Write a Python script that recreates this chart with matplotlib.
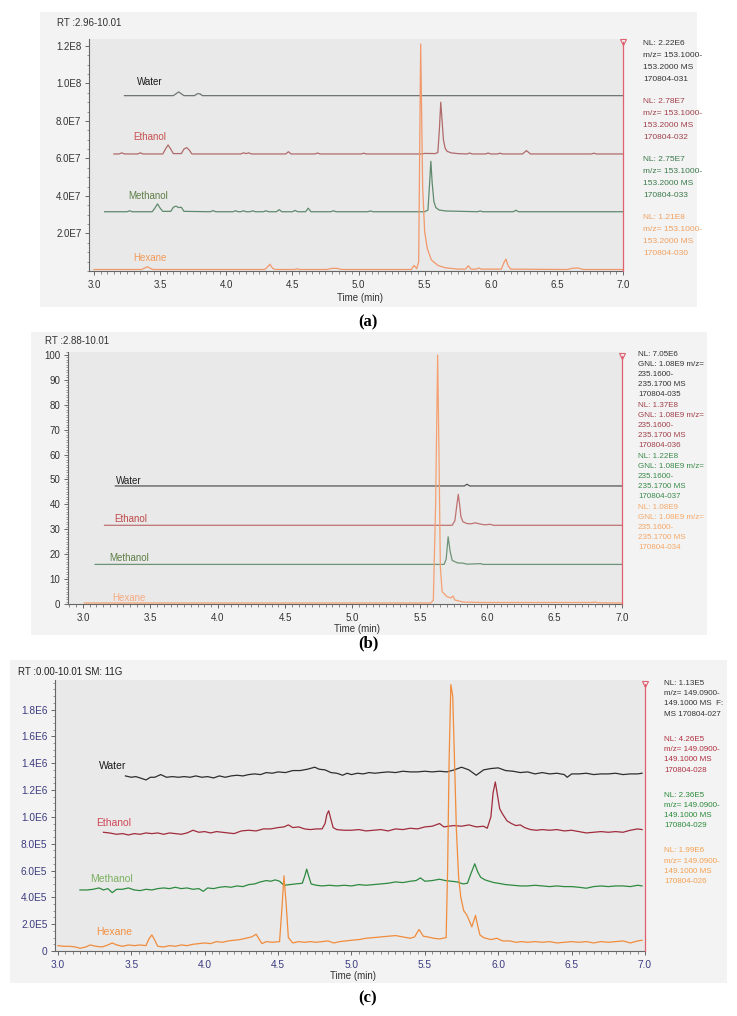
import numpy as np
import matplotlib.pyplot as plt
from matplotlib.patches import Rectangle
from matplotlib.ticker import MultipleLocator, FixedLocator

plt.rcParams['font.family'] = ['Liberation Sans', 'DejaVu Sans']

W, H = 737, 1016

# ---------------- data (time in min, intensity) ----------------
samples = ['Water', 'Ethanol', 'Methanol', 'Hexane']

# panel (a): m/z 153.1-153.2, intensity in units of 1E7
a_water = [(3.23, 9.35), (3.60, 9.35), (3.62, 9.45), (3.64, 9.55), (3.66, 9.45), (3.68, 9.35),
           (3.76, 9.35), (3.78, 9.45), (3.80, 9.45), (3.82, 9.35), (7.0, 9.35)]
a_ethanol = [(3.15, 6.24), (3.19, 6.24), (3.21, 6.30), (3.23, 6.24), (3.33, 6.24), (3.35, 6.30), (3.37, 6.24),
             (3.52, 6.24), (3.54, 6.50), (3.56, 6.72), (3.58, 6.50), (3.60, 6.26), (3.66, 6.26), (3.68, 6.50),
             (3.70, 6.58), (3.72, 6.45), (3.74, 6.24), (4.11, 6.24), (4.13, 6.30), (4.15, 6.26), (4.17, 6.30),
             (4.19, 6.24), (4.45, 6.24), (4.47, 6.36), (4.49, 6.24), (4.67, 6.24), (4.69, 6.29), (4.71, 6.24),
             (5.02, 6.24), (5.04, 6.28), (5.06, 6.24), (5.48, 6.24), (5.50, 6.27), (5.58, 6.26), (5.60, 6.32),
             (5.612, 7.6), (5.622, 9.0), (5.632, 8.0), (5.642, 7.0), (5.655, 6.55), (5.67, 6.38), (5.70, 6.30),
             (5.75, 6.26), (5.82, 6.24), (5.84, 6.29), (5.86, 6.24), (5.96, 6.24), (5.98, 6.29), (6.00, 6.24),
             (6.05, 6.24), (6.07, 6.28), (6.09, 6.24), (6.24, 6.24), (6.27, 6.42), (6.30, 6.24), (6.76, 6.24),
             (6.78, 6.28), (6.80, 6.24), (7.0, 6.24)]
a_methanol = [(3.08, 3.16), (3.25, 3.16), (3.27, 3.21), (3.29, 3.16), (3.44, 3.16), (3.46, 3.35), (3.48, 3.58),
              (3.50, 3.35), (3.52, 3.18), (3.58, 3.18), (3.60, 3.40), (3.62, 3.46), (3.64, 3.38), (3.66, 3.40),
              (3.68, 3.18), (3.88, 3.16), (3.90, 3.22), (3.92, 3.16), (4.05, 3.16), (4.07, 3.21), (4.09, 3.16),
              (4.11, 3.16), (4.13, 3.21), (4.15, 3.16), (4.18, 3.16), (4.20, 3.21), (4.22, 3.16), (4.28, 3.16),
              (4.30, 3.21), (4.32, 3.16), (4.38, 3.16), (4.40, 3.27), (4.42, 3.16), (4.50, 3.16), (4.52, 3.23),
              (4.54, 3.16), (4.60, 3.16), (4.62, 3.35), (4.64, 3.16), (4.79, 3.16), (4.81, 3.21), (4.83, 3.16),
              (5.07, 3.16), (5.09, 3.20), (5.11, 3.16), (5.50, 3.16), (5.525, 3.25), (5.537, 4.6), (5.547, 5.85),
              (5.557, 4.7), (5.57, 3.7), (5.585, 3.38), (5.61, 3.25), (5.66, 3.20), (5.90, 3.16), (5.92, 3.20),
              (5.94, 3.16), (6.17, 3.16), (6.19, 3.24), (6.21, 3.16), (7.0, 3.16)]
a_hexane = [(3.00, 0.08), (3.36, 0.08), (3.38, 0.15), (3.405, 0.23), (3.43, 0.12), (3.45, 0.08), (4.29, 0.08),
            (4.31, 0.20), (4.33, 0.36), (4.35, 0.15), (4.37, 0.08), (4.52, 0.08), (4.53, 0.12), (4.55, 0.08),
            (4.76, 0.08), (4.80, 0.14), (4.84, 0.14), (4.87, 0.08), (5.40, 0.08), (5.42, 0.30), (5.44, 0.12),
            (5.455, 0.5), (5.462, 6.0), (5.47, 12.1), (5.478, 8.0), (5.485, 4.5), (5.50, 2.1), (5.52, 1.2),
            (5.55, 0.6), (5.60, 0.3), (5.65, 0.18), (5.75, 0.10), (5.81, 0.10), (5.83, 0.28), (5.85, 0.10),
            (5.89, 0.10), (5.91, 0.16), (5.93, 0.10), (6.08, 0.10), (6.10, 0.45), (6.115, 0.64), (6.13, 0.30),
            (6.15, 0.10), (6.58, 0.08), (6.62, 0.15), (6.66, 0.16), (6.70, 0.08), (7.0, 0.08)]

# panel (b): m/z 235.16-235.17, relative abundance (%)
b_water = [(3.24, 47.4), (5.83, 47.4), (5.85, 48.1), (5.87, 47.4), (7.0, 47.4)]
b_ethanol = [(3.16, 31.6), (5.74, 31.6), (5.76, 33.5), (5.775, 40.0), (5.785, 44.0), (5.795, 40.0),
             (5.805, 35.0), (5.82, 33.0), (5.85, 32.3), (5.88, 32.2), (5.91, 32.6), (5.94, 32.2),
             (5.98, 31.8), (6.02, 32.0), (6.05, 31.6), (7.0, 31.6)]
b_methanol = [(3.09, 15.9), (5.68, 15.9), (5.695, 18.0), (5.71, 27.0), (5.725, 21.0), (5.74, 17.5),
              (5.78, 16.5), (5.82, 16.4), (5.85, 16.0), (5.95, 16.2), (5.97, 15.9), (7.0, 15.9)]
b_hexane = [(3.01, 0.4), (5.58, 0.4), (5.60, 1.5), (5.617, 40.0), (5.632, 100.0), (5.642, 60.0),
            (5.652, 15.0), (5.665, 5.0), (5.70, 3.0), (5.73, 2.4), (5.745, 3.2), (5.76, 1.6),
            (5.82, 0.8), (5.95, 0.6), (6.78, 0.6), (6.80, 0.8), (6.82, 0.5), (7.0, 0.4)]

# panel (c): m/z 149.09-149.10, intensity in units of 1E5
c_water = [(3.46, 13.05), (3.50, 12.95), (3.53, 13.0), (3.56, 12.9), (3.60, 12.75), (3.63, 12.95), (3.66, 12.95),
           (3.70, 13.15), (3.74, 12.95), (3.78, 13.0), (3.82, 12.95), (3.86, 13.0), (3.90, 12.95), (3.94, 13.05),
           (3.98, 12.95), (4.02, 13.0), (4.06, 12.9), (4.10, 13.05), (4.14, 12.95), (4.18, 13.05), (4.22, 13.1),
           (4.26, 13.05), (4.30, 13.15), (4.34, 13.2), (4.38, 13.15), (4.42, 13.3), (4.46, 13.25), (4.50, 13.35),
           (4.55, 13.3), (4.60, 13.45), (4.65, 13.45), (4.70, 13.55), (4.75, 13.7), (4.78, 13.55), (4.82, 13.5),
           (4.86, 13.3), (4.90, 13.25), (4.94, 13.1), (4.97, 13.25), (5.00, 13.15), (5.04, 13.25), (5.08, 13.2),
           (5.12, 13.3), (5.16, 13.25), (5.20, 13.3), (5.25, 13.35), (5.30, 13.3), (5.35, 13.4), (5.40, 13.35),
           (5.45, 13.35), (5.50, 13.4), (5.55, 13.35), (5.60, 13.4), (5.65, 13.35), (5.70, 13.5), (5.75, 13.7),
           (5.80, 13.5), (5.85, 13.1), (5.90, 13.5), (5.95, 13.6), (6.00, 13.65), (6.05, 13.45), (6.10, 13.4),
           (6.15, 13.3), (6.20, 13.35), (6.25, 13.2), (6.30, 13.3), (6.35, 13.2), (6.40, 13.25), (6.45, 13.15),
           (6.47, 12.95), (6.50, 13.2), (6.55, 13.2), (6.60, 13.25), (6.65, 13.15), (6.70, 13.2), (6.75, 13.2),
           (6.80, 13.25), (6.85, 13.15), (6.90, 13.2), (6.95, 13.2), (6.98, 13.25)]
c_ethanol = [(3.31, 8.85), (3.35, 8.8), (3.40, 8.7), (3.44, 8.75), (3.48, 8.65), (3.52, 8.75), (3.56, 8.7),
             (3.60, 8.8), (3.64, 8.75), (3.68, 8.8), (3.72, 8.7), (3.76, 8.8), (3.80, 8.75), (3.84, 8.7),
             (3.88, 8.8), (3.92, 9.0), (3.96, 8.85), (4.00, 8.9), (4.04, 8.8), (4.08, 8.9), (4.12, 8.85),
             (4.16, 8.8), (4.20, 8.75), (4.25, 8.95), (4.30, 9.0), (4.35, 8.95), (4.40, 9.1), (4.45, 9.1),
             (4.50, 9.2), (4.54, 9.25), (4.57, 9.4), (4.60, 9.2), (4.64, 9.25), (4.68, 9.1), (4.72, 9.05),
             (4.76, 9.1), (4.80, 9.1), (4.82, 9.5), (4.833, 10.2), (4.845, 10.45), (4.858, 9.9), (4.875, 9.2),
             (4.90, 9.05), (4.95, 9.0), (5.00, 9.0), (5.05, 9.05), (5.10, 8.95), (5.15, 9.0), (5.20, 9.05),
             (5.25, 8.95), (5.30, 9.1), (5.35, 9.05), (5.40, 9.15), (5.45, 9.1), (5.50, 9.25), (5.55, 9.3),
             (5.60, 9.5), (5.63, 9.25), (5.66, 9.3), (5.70, 9.35), (5.75, 9.3), (5.80, 9.4), (5.85, 9.25),
             (5.90, 9.3), (5.925, 9.15), (5.95, 10.0), (5.965, 11.8), (5.98, 12.6), (5.995, 11.6), (6.01, 10.6),
             (6.03, 10.2), (6.06, 9.7), (6.09, 9.5), (6.12, 9.35), (6.15, 9.4), (6.18, 9.2), (6.22, 9.05),
             (6.26, 9.0), (6.30, 9.05), (6.35, 9.0), (6.40, 9.05), (6.45, 8.95), (6.50, 9.0), (6.55, 8.9),
             (6.60, 8.8), (6.65, 8.85), (6.70, 8.9), (6.75, 8.85), (6.80, 8.9), (6.85, 8.85), (6.90, 9.0),
             (6.95, 9.1), (6.98, 9.05)]
c_methanol = [(3.15, 4.55), (3.20, 4.55), (3.24, 4.6), (3.28, 4.7), (3.31, 4.55), (3.34, 4.65), (3.37, 4.35),
              (3.40, 4.6), (3.44, 4.6), (3.48, 4.7), (3.52, 4.55), (3.56, 4.5), (3.60, 4.6), (3.64, 4.55),
              (3.68, 4.65), (3.72, 4.7), (3.76, 4.65), (3.80, 4.75), (3.84, 4.65), (3.88, 4.7), (3.92, 4.6),
              (3.96, 4.65), (3.99, 4.45), (4.02, 4.7), (4.06, 4.65), (4.10, 4.75), (4.14, 4.8), (4.18, 4.75),
              (4.22, 4.85), (4.26, 4.8), (4.30, 4.95), (4.34, 5.0), (4.38, 5.15), (4.42, 5.25), (4.45, 5.2),
              (4.48, 5.3), (4.51, 5.2), (4.54, 4.9), (4.58, 4.95), (4.62, 5.0), (4.665, 5.05), (4.682, 5.6),
              (4.695, 6.1), (4.708, 5.6), (4.725, 5.0), (4.76, 4.9), (4.80, 4.85), (4.85, 4.9), (4.90, 4.85),
              (4.95, 4.9), (5.00, 4.85), (5.05, 4.95), (5.10, 4.9), (5.15, 4.95), (5.20, 5.0), (5.25, 5.05),
              (5.30, 5.15), (5.35, 5.1), (5.40, 5.2), (5.44, 5.25), (5.47, 5.45), (5.50, 5.2), (5.55, 5.25),
              (5.60, 5.35), (5.64, 5.25), (5.68, 5.2), (5.72, 5.15), (5.76, 5.0), (5.79, 5.05), (5.815, 5.8),
              (5.84, 6.5), (5.86, 5.9), (5.88, 5.5), (5.91, 5.3), (5.94, 5.2), (5.97, 5.1), (6.00, 5.05),
              (6.05, 4.95), (6.10, 4.9), (6.15, 4.85), (6.20, 4.85), (6.25, 4.9), (6.30, 4.85), (6.35, 4.8),
              (6.40, 4.85), (6.45, 4.8), (6.50, 4.8), (6.55, 4.75), (6.60, 4.68), (6.65, 4.8), (6.70, 4.85),
              (6.75, 4.8), (6.80, 4.85), (6.85, 4.85), (6.90, 4.8), (6.95, 4.9), (6.98, 4.85)]
c_hexane = [(3.00, 0.4), (3.04, 0.35), (3.08, 0.35), (3.12, 0.3), (3.15, 0.2), (3.19, 0.3), (3.22, 0.45),
            (3.26, 0.35), (3.30, 0.3), (3.34, 0.45), (3.37, 0.6), (3.40, 0.45), (3.44, 0.35), (3.48, 0.45),
            (3.52, 0.4), (3.56, 0.45), (3.60, 0.4), (3.62, 0.9), (3.64, 1.2), (3.66, 0.8), (3.68, 0.35),
            (3.72, 0.3), (3.76, 0.4), (3.80, 0.35), (3.84, 0.45), (3.88, 0.4), (3.92, 0.5), (3.96, 0.55),
            (4.00, 0.6), (4.04, 0.55), (4.08, 0.7), (4.12, 0.65), (4.16, 0.75), (4.20, 0.8), (4.24, 0.85),
            (4.28, 0.95), (4.32, 1.05), (4.35, 1.25), (4.37, 0.9), (4.39, 0.55), (4.42, 0.7), (4.46, 0.65),
            (4.51, 0.7), (4.525, 3.0), (4.54, 5.6), (4.555, 3.5), (4.57, 1.0), (4.60, 0.6), (4.64, 0.7),
            (4.68, 0.65), (4.72, 0.7), (4.76, 0.65), (4.80, 0.7), (4.84, 0.75), (4.88, 0.6), (4.92, 0.7),
            (4.96, 0.75), (5.00, 0.8), (5.05, 0.85), (5.10, 0.95), (5.15, 1.0), (5.20, 1.05), (5.25, 1.1),
            (5.30, 1.15), (5.35, 1.05), (5.40, 0.95), (5.43, 1.05), (5.46, 1.6), (5.49, 1.1), (5.52, 1.05),
            (5.56, 0.95), (5.60, 0.9), (5.645, 1.0), (5.655, 6.0), (5.665, 14.0), (5.677, 19.85), (5.69, 19.0),
            (5.70, 15.0), (5.715, 9.0), (5.73, 5.5), (5.745, 4.0), (5.765, 3.0), (5.785, 2.7), (5.805, 2.2),
            (5.82, 1.8), (5.845, 2.65), (5.86, 1.9), (5.875, 1.2), (5.90, 1.0), (5.95, 0.85), (5.99, 0.95),
            (6.03, 0.75), (6.08, 0.75), (6.12, 0.65), (6.16, 0.7), (6.20, 0.65), (6.25, 0.7), (6.30, 0.65),
            (6.35, 0.7), (6.40, 0.6), (6.45, 0.65), (6.50, 0.7), (6.55, 0.65), (6.60, 0.7), (6.65, 0.6),
            (6.70, 0.7), (6.75, 0.65), (6.80, 0.7), (6.85, 0.75), (6.90, 0.6), (6.95, 0.75), (6.98, 0.8)]

# normalisation info printed to the right of each panel
a_info = ['NL: 2.22E6\nm/z= 153.1000-\n153.2000 MS\n170804-031',
          'NL: 2.78E7\nm/z= 153.1000-\n153.2000 MS\n170804-032',
          'NL: 2.75E7\nm/z= 153.1000-\n153.2000 MS\n170804-033',
          'NL: 1.21E8\nm/z= 153.1000-\n153.2000 MS\n170804-030']
b_info = ['NL: 7.05E6\nGNL: 1.08E9 m/z=\n235.1600-\n235.1700 MS\n170804-035',
          'NL: 1.37E8\nGNL: 1.08E9 m/z=\n235.1600-\n235.1700 MS\n170804-036',
          'NL: 1.22E8\nGNL: 1.08E9 m/z=\n235.1600-\n235.1700 MS\n170804-037',
          'NL: 1.08E9\nGNL: 1.08E9 m/z=\n235.1600-\n235.1700 MS\n170804-034']
c_info = ['NL: 1.13E5\nm/z= 149.0900-\n149.1000 MS  F:\nMS 170804-027',
          'NL: 4.26E5\nm/z= 149.0900-\n149.1000 MS\n170804-028',
          'NL: 2.36E5\nm/z= 149.0900-\n149.1000 MS\n170804-029',
          'NL: 1.99E6\nm/z= 149.0900-\n149.1000 MS\n170804-026']

a_yticks = [2e7, 4e7, 6e7, 8e7, 1e8, 1.2e8]
a_ylabels = ['2.0E7', '4.0E7', '6.0E7', '8.0E7', '1.0E8', '1.2E8']
b_yticks = [0, 10, 20, 30, 40, 50, 60, 70, 80, 90, 100]
c_yticks = [0, 2e5, 4e5, 6e5, 8e5, 1e6, 1.2e6, 1.4e6, 1.6e6, 1.8e6]
c_ylabels = ['0', '2.0E5', '4.0E5', '6.0E5', '8.0E5', '1.0E6', '1.2E6', '1.4E6', '1.6E6', '1.8E6']
x_ticks = [3.0, 3.5, 4.0, 4.5, 5.0, 5.5, 6.0, 6.5, 7.0]

# ---------------- figure ----------------
fig = plt.figure(figsize=(W / 100, H / 100), dpi=100)


def px_box(x0, y0, x1, y1, color):
    fig.patches.append(Rectangle((x0 / W, 1 - y1 / H), (x1 - x0) / W, (y1 - y0) / H,
                                 transform=fig.transFigure, facecolor=color, edgecolor='none', zorder=-5))


def px_text(x, y, s, **kw):
    fig.text(x / W, 1 - y / H, s, **kw)


def px_axes(x0, y0, x1, y1):
    return fig.add_axes([x0 / W, 1 - y1 / H, (x1 - x0) / W, (y1 - y0) / H])


def style_axes(ax, xlim, ylim, yticks, ylabels, yminor, tickcolor, fs=7):
    ax.set_facecolor('#e9e9e9')
    ax.set_xlim(*xlim)
    ax.set_ylim(*ylim)
    for s in ['top', 'right']:
        ax.spines[s].set_visible(False)
    for s in ['left', 'bottom']:
        ax.spines[s].set_color('#666666')
        ax.spines[s].set_linewidth(0.8)
    ax.xaxis.set_major_locator(FixedLocator(x_ticks))
    ax.set_xticklabels(['%.1f' % v for v in x_ticks])
    ax.xaxis.set_minor_locator(MultipleLocator(0.05))
    ax.yaxis.set_major_locator(FixedLocator(yticks))
    ax.set_yticklabels(ylabels)
    ax.yaxis.set_minor_locator(MultipleLocator(yminor))
    ax.tick_params(axis='x', which='major', length=3.2, width=0.7, color='#666666', pad=3,
                   labelsize=fs, labelcolor=tickcolor)
    ax.tick_params(axis='x', which='minor', length=1.8, width=0.6, color='#777777')
    ax.tick_params(axis='y', which='major', length=3, width=0.7, color='#666666', pad=2.5,
                   labelsize=fs, labelcolor=tickcolor)
    ax.tick_params(axis='y', which='minor', length=1.6, width=0.6, color='#888888')
    # red marker line at end of the displayed time range
    ax.axvline(xlim[1], ymin=0, ymax=0.985, color='#e06070', lw=0.9, zorder=5, clip_on=False)
    ax.plot([xlim[1]], [0.985], transform=ax.get_xaxis_transform(), marker='v', ms=4,
            mfc='none', mec='#e06070', mew=0.8, clip_on=False, zorder=6)


def draw(ax, traces, scale, colors, lws):
    for tr, col, lw in zip(traces, colors, lws):
        t = [p[0] for p in tr]
        v = [p[1] * scale for p in tr]
        ax.plot(t, v, color=col, lw=lw, solid_joinstyle='round')


# ---------- panel (a) ----------
px_box(40, 12, 697, 307, '#f3f3f3')
ax = px_axes(89, 39, 623, 271)
style_axes(ax, (2.962, 7.0), (0, 1.237e8), a_yticks, a_ylabels, 5e6, '#333333')
draw(ax, [a_water, a_ethanol, a_methanol, a_hexane], 1e7,
     ['#6f7672', '#b06a6a', '#5f8a6e', '#f2986a'], [0.9, 0.9, 0.9, 0.9])
a_lab = [(3.325, 10.1e7), (3.295, 7.15e7), (3.257, 4.0e7), (3.30, 0.71e7)]
a_labcol = ['#1a1a1a', '#c85050', '#5e7e46', '#f29a5a']
for name, (x, y), c in zip(samples, a_lab, a_labcol):
    ax.text(x, y, name, color=c, fontsize=7, ha='left', va='center')
px_text(57, 23, 'RT :2.96-10.01', fontsize=7, color='#333333', va='center')
px_text(360, 298, 'Time (min)', fontsize=7, color='#333333', ha='center', va='center')
a_infocol = ['#333333', '#a0404a', '#3a7a4a', '#f0a060']
for i, (txt, c) in enumerate(zip(a_info, a_infocol)):
    for j, line in enumerate(txt.split('\n')):
        px_text(643, 43.3 + i * 58 + j * 12.2, line, fontsize=6, color=c, va='center')
px_text(368, 322, '(a)', fontsize=12, fontweight='bold', family='Liberation Serif',
        ha='center', va='center')

# ---------- panel (b) ----------
px_box(31, 332, 707, 635, '#f3f3f3')
ax = px_axes(68, 352, 622, 604)
style_axes(ax, (2.889, 7.0), (0, 101.2), b_yticks, [str(v) for v in b_yticks], 1, '#333333')
draw(ax, [b_water, b_ethanol, b_methanol, b_hexane], 1,
     ['#555555', '#c07272', '#6e9478', '#f5a070'], [0.9, 0.9, 0.9, 0.9])
b_lab = [(3.245, 49.4), (3.23, 34.0), (3.193, 18.5), (3.22, 2.5)]
b_labcol = ['#202020', '#c04848', '#5e7e46', '#f5aa80']
for name, (x, y), c in zip(samples, b_lab, b_labcol):
    ax.text(x, y, name, color=c, fontsize=7, ha='left', va='center')
px_text(45, 341, 'RT :2.88-10.01', fontsize=7, color='#333333', va='center')
px_text(357, 628.5, 'Time (min)', fontsize=7, color='#333333', ha='center', va='center')
b_infocol = ['#333333', '#a0404a', '#3a8a4a', '#f5a868']
for i, (txt, c) in enumerate(zip(b_info, b_infocol)):
    for j, line in enumerate(txt.split('\n')):
        px_text(638, 355 + i * 50.8 + j * 10, line, fontsize=5.8, color=c, va='center')
px_text(368, 643, '(b)', fontsize=12, fontweight='bold', family='Liberation Serif',
        ha='center', va='center')

# ---------- panel (c) ----------
px_box(10, 660, 727, 983, '#f3f3f3')
ax = px_axes(55, 680, 645, 951)
style_axes(ax, (2.98, 7.0), (0, 2.02e6), c_yticks, c_ylabels, 5e4, '#3c3c80', fs=7.3)
draw(ax, [c_water, c_ethanol, c_methanol, c_hexane], 1e5,
     ['#2e2e2e', '#a02c3c', '#2e8a40', '#f08c3c'], [0.9, 0.9, 0.9, 0.9])
c_lab = [(3.279, 13.8e5), (3.257, 9.54e5), (3.218, 5.38e5), (3.257, 1.44e5)]
c_labcol = ['#1a1a1a', '#d04858', '#7ab060', '#f29040']
for name, (x, y), c in zip(samples, c_lab, c_labcol):
    ax.text(x, y, name, color=c, fontsize=7.5, ha='left', va='center')
px_text(18, 672, 'RT :0.00-10.01 SM: 11G', fontsize=7, color='#222222', va='center')
px_text(353, 976, 'Time (min)', fontsize=7, color='#333333', ha='center', va='center')
c_infocol = ['#333333', '#b03040', '#2a8a3a', '#f5a050']
for i, (txt, c) in enumerate(zip(c_info, c_infocol)):
    for j, line in enumerate(txt.split('\n')):
        px_text(664, 683.3 + i * 55.9 + j * 10.3, line, fontsize=5.8, color=c, va='center')
px_text(368, 998, '(c)', fontsize=12, fontweight='bold', family='Liberation Serif',
        ha='center', va='center')

fig.savefig('out.png', dpi=100)
